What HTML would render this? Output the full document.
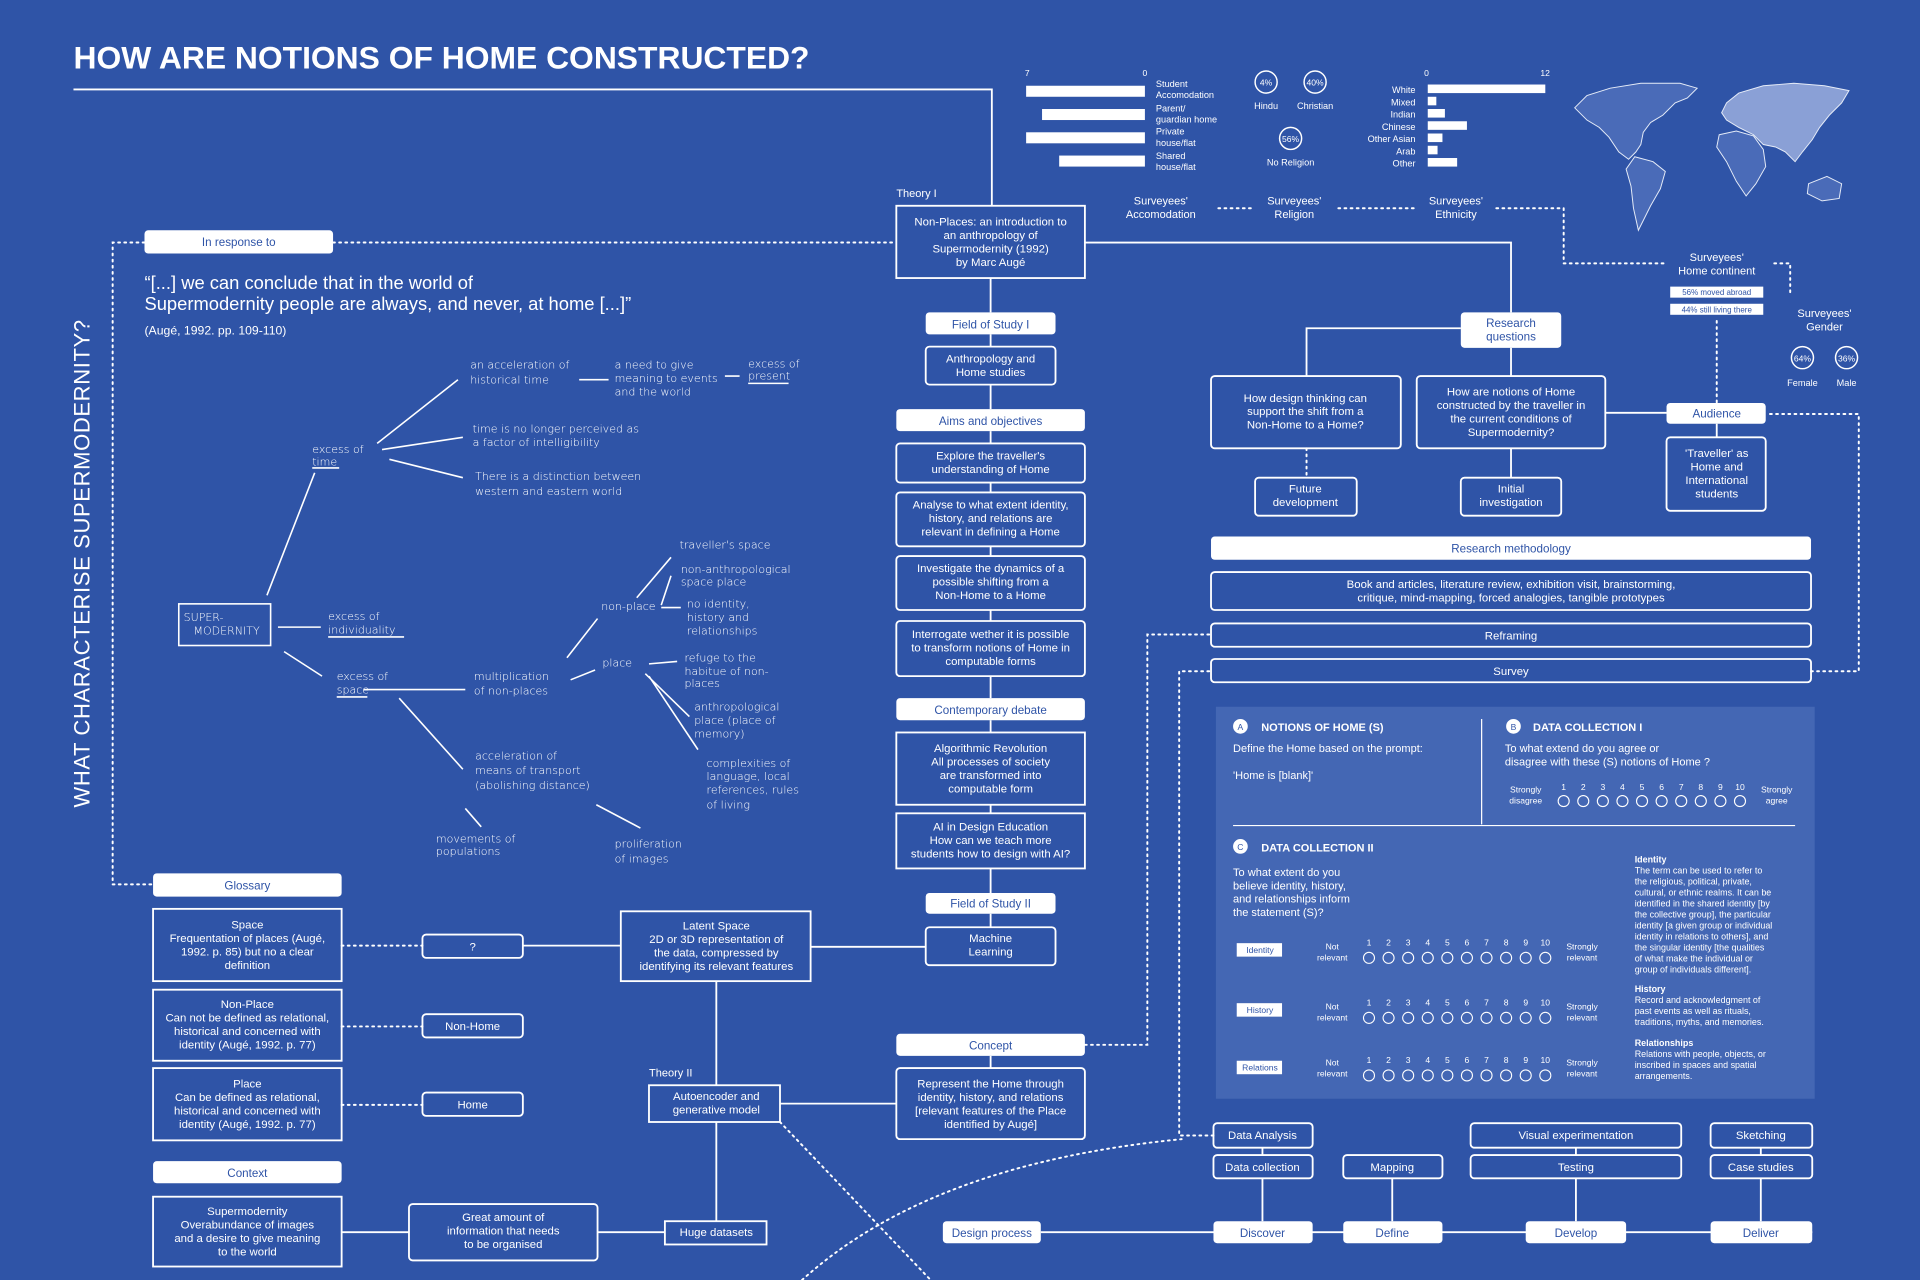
<!DOCTYPE html>
<html><head><meta charset="utf-8"><style>
html,body{margin:0;padding:0;background:#2f54a7;}
svg{display:block;}
text{font-family:"Liberation Sans",sans-serif;fill:#fff;}
.b{fill:#2f54a7;}
.m{text-anchor:middle;}
.hw{font-family:"DejaVu Sans",sans-serif;font-size:9px;font-weight:200;}
</style></head><body>
<svg width="1920" height="1280" viewBox="0 0 1568 1045" preserveAspectRatio="none" xmlns="http://www.w3.org/2000/svg">
<rect width="1568" height="1045" fill="#2f54a7"/>
<g stroke="#fff" fill="none" stroke-width="1.5">
<path d="M60 73H810V168"/>
<path d="M809 227V255M809 273V283M809 314V334M809 352V362M809 394V402M809 446V454M809 498V507M809 552V570M809 588V598M809 657V664M809 709V729M809 746V757"/>
<path d="M886 198H1234V255"/>
<path d="M756 773H662M585 801V886M585 916V997M637 901H732M543 1006H488M334 1006H279M427 772H507"/>
<path d="M809 862V872"/>
<path d="M1193 268H1067V307M1234 284V307M1311 337H1361M1402 346V357M1234 366V390"/>
<path d="M850 1006H1480M1031 962V997M1137 962V997M1287 962V997M1438 962V997M1031 937V943M1287 937V943M1438 937V943"/>
</g>
<g stroke="#fff" fill="none" stroke-width="1.6" stroke-dasharray="1.5 3.5" stroke-linecap="round">
<path d="M118 198H92V722H125"/>
<path d="M272 198H732"/>
<path d="M279 772H345M279 838H345M279 902H345"/>
<path d="M886 853H937V518H989"/>
<path d="M991 927H963V548H989"/>
<path d="M1479 548H1518V338H1443"/>
<path d="M995 170H1025M1093 170H1158M1222 170H1277V215H1360"/>
<path d="M1449 215H1462V240"/>
<path d="M1402 262V330"/>
<path d="M1067 366V390"/>
<path d="M637 916L760 1045"/>
<path d="M655 1045Q760 950 965 930"/>
</g>
<text x="60" y="56" font-size="26" font-weight="bold" style="font-size:26px">HOW ARE NOTIONS OF HOME CONSTRUCTED?</text>
<text transform="translate(73 460) rotate(-90)" class="m" font-size="18" letter-spacing="0.5">WHAT CHARACTERISE SUPERMODERNITY?</text>
<text x="837" y="62" font-size="7">7</text><text x="933" y="62" font-size="7">0</text>
<g fill="#fff"><rect x="838" y="70" width="97" height="9"/><rect x="851" y="89" width="84" height="9"/><rect x="838" y="108" width="97" height="9"/><rect x="865" y="127" width="70" height="9"/></g>
<g font-size="7.5"><text x="944" y="71">Student</text><text x="944" y="80">Accomodation</text><text x="944" y="91">Parent/</text><text x="944" y="100">guardian home</text><text x="944" y="110">Private</text><text x="944" y="119">house/flat</text><text x="944" y="130">Shared</text><text x="944" y="139">house/flat</text></g>
<g stroke="#fff" fill="none" stroke-width="1.2"><circle cx="1034" cy="67" r="9"/><circle cx="1074" cy="67" r="9"/><circle cx="1054" cy="113" r="9"/><circle cx="1472" cy="292" r="9"/><circle cx="1508" cy="292" r="9"/></g>
<g font-size="7" class="m"><text x="1034" y="70" class="m">4%</text><text x="1074" y="70" class="m">40%</text><text x="1054" y="116" class="m">56%</text><text x="1472" y="295" class="m">64%</text><text x="1508" y="295" class="m">36%</text>
<text x="1034" y="89" class="m" font-size="7.5">Hindu</text><text x="1074" y="89" class="m" font-size="7.5">Christian</text><text x="1054" y="135" class="m" font-size="7.5">No Religion</text><text x="1472" y="315" class="m" font-size="7.5">Female</text><text x="1508" y="315" class="m" font-size="7.5">Male</text></g>
<text x="1163" y="62" font-size="7">0</text><text x="1258" y="62" font-size="7">12</text>
<g font-size="7.5" text-anchor="end"><text x="1156" y="76" text-anchor="end">White</text><text x="1156" y="86" text-anchor="end">Mixed</text><text x="1156" y="96" text-anchor="end">Indian</text><text x="1156" y="106" text-anchor="end">Chinese</text><text x="1156" y="116" text-anchor="end">Other Asian</text><text x="1156" y="126" text-anchor="end">Arab</text><text x="1156" y="136" text-anchor="end">Other</text></g>
<g fill="#fff"><rect x="1166" y="69" width="96" height="7"/><rect x="1166" y="79" width="7" height="7"/><rect x="1166" y="89" width="14" height="7"/><rect x="1166" y="99" width="32" height="7"/><rect x="1166" y="109" width="12" height="7"/><rect x="1166" y="119" width="8" height="7"/><rect x="1166" y="129" width="24" height="7"/></g>
<g stroke="#e6ecf8" stroke-width="0.8" fill="#4a6bb8">
<path d="M1286 88L1296 78L1315 72L1340 68L1372 68L1386 72L1378 80L1368 84L1358 94L1348 100L1342 108L1340 118L1336 124L1330 130L1322 124L1314 112L1306 104L1296 98Z"/>
<path d="M1335 128L1350 132L1360 140L1356 154L1348 168L1342 180L1338 188L1334 170L1332 152L1328 138Z"/>
<path d="M1404 110L1418 107L1432 111L1440 122L1442 136L1434 150L1426 160L1418 148L1410 132L1402 120Z"/>
<path d="M1477 150L1492 144L1504 150L1502 162L1488 164L1476 158Z"/>
</g>
<g stroke="#e6ecf8" stroke-width="0.8" fill="#8aa0d6">
<path d="M1410 84L1420 76L1440 70L1465 68L1490 70L1510 74L1504 84L1494 94L1486 104L1480 114L1472 124L1466 132L1458 124L1450 120L1440 118L1432 110L1420 104L1410 98L1406 92Z"/>
</g>
<g font-size="9" class="m"><text x="948" y="167" class="m">Surveyees'</text><text x="948" y="178" class="m">Accomodation</text><text x="1057" y="167" class="m">Surveyees'</text><text x="1057" y="178" class="m">Religion</text><text x="1189" y="167" class="m">Surveyees'</text><text x="1189" y="178" class="m">Ethnicity</text><text x="1402" y="213" class="m">Surveyees'</text><text x="1402" y="224" class="m">Home continent</text><text x="1490" y="259" class="m">Surveyees'</text><text x="1490" y="270" class="m">Gender</text></g>
<rect x="1364" y="234" width="76" height="9" fill="#fff"/><rect x="1364" y="248" width="76" height="9" fill="#fff"/>
<text x="1402" y="241" class="m b" font-size="6.5">56% moved abroad</text><text x="1402" y="255" class="m b" font-size="6.5">44% still living there</text>
<g fill="#fff">
<rect x="118" y="188" width="154" height="19" rx="3"/>
<rect x="756" y="255" width="106" height="18" rx="3"/>
<rect x="732" y="334" width="154" height="18" rx="3"/>
<rect x="732" y="570" width="154" height="18" rx="3"/>
<rect x="756" y="729" width="106" height="17" rx="3"/>
<rect x="732" y="844" width="154" height="18" rx="3"/>
<rect x="1193" y="255" width="82" height="29" rx="3"/>
<rect x="1361" y="329" width="81" height="17" rx="3"/>
<rect x="989" y="438" width="490" height="19" rx="3"/>
<rect x="125" y="713" width="154" height="19" rx="3"/>
<rect x="125" y="948" width="154" height="18" rx="3"/>
<rect x="770" y="997" width="80" height="18" rx="3"/>
<rect x="991" y="997" width="81" height="18" rx="3"/>
<rect x="1097" y="997" width="81" height="18" rx="3"/>
<rect x="1246" y="997" width="82" height="18" rx="3"/>
<rect x="1397" y="997" width="83" height="18" rx="3"/>
</g>
<g font-size="9.5" class="b">
<text x="195" y="201" class="m b">In response to</text>
<text x="809" y="268" class="m b">Field of Study I</text>
<text x="809" y="347" class="m b">Aims and objectives</text>
<text x="809" y="583" class="m b">Contemporary debate</text>
<text x="809" y="741" class="m b">Field of Study II</text>
<text x="809" y="857" class="m b">Concept</text>
<text x="1234" y="267" class="m b">Research</text><text x="1234" y="278" class="m b">questions</text>
<text x="1402" y="341" class="m b">Audience</text>
<text x="1234" y="451" class="m b">Research methodology</text>
<text x="202" y="726" class="m b">Glossary</text>
<text x="202" y="961" class="m b">Context</text>
<text x="810" y="1010" class="m b">Design process</text>
<text x="1031" y="1010" class="m b">Discover</text>
<text x="1137" y="1010" class="m b">Define</text>
<text x="1287" y="1010" class="m b">Develop</text>
<text x="1438" y="1010" class="m b">Deliver</text>
</g>
<g stroke="#fff" fill="none" stroke-width="1.5">
<rect x="732" y="168" width="154" height="59"/>
<rect x="756" y="283" width="106" height="31" rx="3"/>
<rect x="732" y="362" width="154" height="32" rx="3"/>
<rect x="732" y="402" width="154" height="44" rx="3"/>
<rect x="732" y="454" width="154" height="44" rx="3"/>
<rect x="732" y="507" width="154" height="45" rx="3"/>
<rect x="732" y="598" width="154" height="59"/>
<rect x="732" y="664" width="154" height="45"/>
<rect x="756" y="757" width="106" height="31" rx="3"/>
<rect x="732" y="872" width="154" height="58" rx="3"/>
<rect x="507" y="744" width="155" height="57"/>
<rect x="530" y="886" width="107" height="30"/>
<rect x="543" y="997" width="83" height="19"/>
<rect x="334" y="983" width="154" height="46" rx="3"/>
<rect x="125" y="742" width="154" height="59"/>
<rect x="125" y="808" width="154" height="58"/>
<rect x="125" y="872" width="154" height="59"/>
<rect x="125" y="977" width="154" height="57"/>
<rect x="345" y="763" width="82" height="19" rx="3"/>
<rect x="345" y="828" width="82" height="19" rx="3"/>
<rect x="345" y="892" width="82" height="19" rx="3"/>
<rect x="989" y="307" width="155" height="59" rx="3"/>
<rect x="1157" y="307" width="154" height="59" rx="3"/>
<rect x="1361" y="357" width="81" height="60" rx="3"/>
<rect x="1025" y="390" width="83" height="31" rx="3"/>
<rect x="1193" y="390" width="82" height="31" rx="3"/>
<rect x="989" y="467" width="490" height="31" rx="3"/>
<rect x="989" y="509" width="490" height="19" rx="3"/>
<rect x="989" y="538" width="490" height="19" rx="3"/>
<rect x="991" y="917" width="81" height="20" rx="3"/>
<rect x="991" y="943" width="81" height="19" rx="3"/>
<rect x="1097" y="943" width="81" height="19" rx="3"/>
<rect x="1201" y="917" width="172" height="20" rx="3"/>
<rect x="1201" y="943" width="172" height="19" rx="3"/>
<rect x="1397" y="917" width="83" height="20" rx="3"/>
<rect x="1397" y="943" width="83" height="19" rx="3"/>
</g>
<g font-size="9.3">
<text x="732" y="161" font-size="9">Theory I</text>
<text x="809" y="184" class="m">Non-Places: an introduction to</text><text x="809" y="195" class="m">an anthropology of</text><text x="809" y="206" class="m">Supermodernity (1992)</text><text x="809" y="217" class="m">by Marc Augé</text>
<text x="809" y="296" class="m">Anthropology and</text><text x="809" y="307" class="m">Home studies</text>
<text x="809" y="375" class="m">Explore the traveller's</text><text x="809" y="386" class="m">understanding of Home</text>
<text x="809" y="415" class="m">Analyse to what extent identity,</text><text x="809" y="426" class="m">history, and relations are</text><text x="809" y="437" class="m">relevant in defining a Home</text>
<text x="809" y="467" class="m">Investigate the dynamics of a</text><text x="809" y="478" class="m">possible shifting from a</text><text x="809" y="489" class="m">Non-Home to a Home</text>
<text x="809" y="521" class="m">Interrogate wether it is possible</text><text x="809" y="532" class="m">to transform notions of Home in</text><text x="809" y="543" class="m">computable forms</text>
<text x="809" y="614" class="m">Algorithmic Revolution</text><text x="809" y="625" class="m">All processes of society</text><text x="809" y="636" class="m">are transformed into</text><text x="809" y="647" class="m">computable form</text>
<text x="809" y="678" class="m">AI in Design Education</text><text x="809" y="689" class="m">How can we teach more</text><text x="809" y="700" class="m">students how to design with AI?</text>
<text x="809" y="769" class="m">Machine</text><text x="809" y="780" class="m">Learning</text>
<text x="809" y="888" class="m">Represent the Home through</text><text x="809" y="899" class="m">identity, history, and relations</text><text x="809" y="910" class="m">[relevant features of the Place</text><text x="809" y="921" class="m">identified by Augé]</text>
<text x="585" y="759" class="m">Latent Space</text><text x="585" y="770" class="m">2D or 3D representation of</text><text x="585" y="781" class="m">the data, compressed by</text><text x="585" y="792" class="m">identifying its relevant features</text>
<text x="530" y="879" font-size="9">Theory II</text>
<text x="585" y="898" class="m">Autoencoder and</text><text x="585" y="909" class="m">generative model</text>
<text x="585" y="1009" class="m">Huge datasets</text>
<text x="411" y="997" class="m">Great amount of</text><text x="411" y="1008" class="m">information that needs</text><text x="411" y="1019" class="m">to be organised</text>
<text x="202" y="758" class="m">Space</text><text x="202" y="769" class="m">Frequentation of places (Augé,</text><text x="202" y="780" class="m">1992. p. 85) but no a clear</text><text x="202" y="791" class="m">definition</text>
<text x="202" y="823" class="m">Non-Place</text><text x="202" y="834" class="m">Can not be defined as relational,</text><text x="202" y="845" class="m">historical and concerned with</text><text x="202" y="856" class="m">identity (Augé, 1992. p. 77)</text>
<text x="202" y="888" class="m">Place</text><text x="202" y="899" class="m">Can be defined as relational,</text><text x="202" y="910" class="m">historical and concerned with</text><text x="202" y="921" class="m">identity (Augé, 1992. p. 77)</text>
<text x="202" y="992" class="m">Supermodernity</text><text x="202" y="1003" class="m">Overabundance of images</text><text x="202" y="1014" class="m">and a desire to give meaning</text><text x="202" y="1025" class="m">to the world</text>
<text x="386" y="776" class="m">?</text><text x="386" y="841" class="m">Non-Home</text><text x="386" y="905" class="m">Home</text>
<text x="1066" y="328" class="m">How design thinking can</text><text x="1066" y="339" class="m">support the shift from a</text><text x="1066" y="350" class="m">Non-Home to a Home?</text>
<text x="1234" y="323" class="m">How are notions of Home</text><text x="1234" y="334" class="m">constructed by the traveller in</text><text x="1234" y="345" class="m">the current conditions of</text><text x="1234" y="356" class="m">Supermodernity?</text>
<text x="1402" y="373" class="m">'Traveller' as</text><text x="1402" y="384" class="m">Home and</text><text x="1402" y="395" class="m">International</text><text x="1402" y="406" class="m">students</text>
<text x="1066" y="402" class="m">Future</text><text x="1066" y="413" class="m">development</text>
<text x="1234" y="402" class="m">Initial</text><text x="1234" y="413" class="m">investigation</text>
<text x="1234" y="480" class="m">Book and articles, literature review, exhibition visit, brainstorming,</text><text x="1234" y="491" class="m">critique, mind-mapping, forced analogies, tangible prototypes</text>
<text x="1234" y="522" class="m">Reframing</text><text x="1234" y="551" class="m">Survey</text>
<text x="1031" y="930" class="m">Data Analysis</text><text x="1031" y="956" class="m">Data collection</text><text x="1137" y="956" class="m">Mapping</text>
<text x="1287" y="930" class="m">Visual experimentation</text><text x="1287" y="956" class="m">Testing</text>
<text x="1438" y="930" class="m">Sketching</text><text x="1438" y="956" class="m">Case studies</text>
</g>
<text x="118" y="236" font-size="15">“[...] we can conclude that in the world of</text>
<text x="118" y="253" font-size="15">Supermodernity people are always, and never, at home [...]”</text>
<text x="118" y="273" font-size="10">(Augé, 1992. pp. 109-110)</text>
<g stroke="#fff" fill="none" stroke-width="1.3">
<rect x="146" y="493" width="75" height="34"/>
<path d="M473 310H497M592 307H604M308 362L374 310M312 367L378 357M318 375L378 390M218 486L257 386M227 512H262M232 532L263 552M297 563H380M466 555L486 547M463 537L488 505M520 488L548 455M540 494L548 470M540 496H556M530 542L553 540M527 550L563 585M530 552L570 612M326 570L378 628M487 657L523 676M380 660L393 675"/>
<path d="M255 382H277M268 520H330M275 569H300M611 313H644"/>
</g>
<g class="hw">
<text x="150" y="507" class="hw">SUPER-</text><text x="158" y="518" class="hw">MODERNITY</text>
<text x="384" y="301" class="hw">an acceleration of</text><text x="384" y="313" class="hw">historical time</text>
<text x="502" y="301" class="hw">a need to give</text><text x="502" y="312" class="hw">meaning to events</text><text x="502" y="323" class="hw">and the world</text>
<text x="611" y="300" class="hw">excess of</text><text x="611" y="310" class="hw">present</text>
<text x="386" y="353" class="hw">time is no longer perceived as</text><text x="386" y="364" class="hw">a factor of intelligibility</text>
<text x="388" y="392" class="hw">There is a distinction between</text><text x="388" y="404" class="hw">western and eastern world</text>
<text x="255" y="370" class="hw">excess of</text><text x="255" y="380" class="hw">time</text>
<text x="268" y="506" class="hw">excess of</text><text x="268" y="517" class="hw">individuality</text>
<text x="275" y="555" class="hw">excess of</text><text x="275" y="566" class="hw">space</text>
<text x="387" y="555" class="hw">multiplication</text><text x="387" y="567" class="hw">of non-places</text>
<text x="492" y="544" class="hw">place</text><text x="491" y="498" class="hw">non-place</text>
<text x="555" y="448" class="hw">traveller's space</text>
<text x="556" y="468" class="hw">non-anthropological</text><text x="556" y="478" class="hw">space place</text>
<text x="561" y="496" class="hw">no identity,</text><text x="561" y="507" class="hw">history and</text><text x="561" y="518" class="hw">relationships</text>
<text x="559" y="540" class="hw">refuge to the</text><text x="559" y="551" class="hw">habitue of non-</text><text x="559" y="561" class="hw">places</text>
<text x="567" y="580" class="hw">anthropological</text><text x="567" y="591" class="hw">place (place of</text><text x="567" y="602" class="hw">memory)</text>
<text x="577" y="626" class="hw">complexities of</text><text x="577" y="637" class="hw">language, local</text><text x="577" y="648" class="hw">references, rules</text><text x="577" y="660" class="hw">of living</text>
<text x="388" y="620" class="hw">acceleration of</text><text x="388" y="632" class="hw">means of transport</text><text x="388" y="644" class="hw">(abolishing distance)</text>
<text x="356" y="688" class="hw">movements of</text><text x="356" y="698" class="hw">populations</text>
<text x="502" y="692" class="hw">proliferation</text><text x="502" y="704" class="hw">of images</text>
</g>
<rect x="993" y="577" width="489" height="320" fill="#4467b4"/>
<g stroke="#fff" stroke-width="1" fill="none"><path d="M1210 587V673M1007 674H1466"/></g>
<g fill="#fff"><circle cx="1013" cy="593" r="6"/><circle cx="1236" cy="593" r="6"/><circle cx="1013" cy="691" r="6"/></g>
<text x="1013" y="596" class="m b" font-size="7">A</text><text x="1236" y="596" class="m b" font-size="7">B</text><text x="1013" y="694" class="m b" font-size="7">C</text>
<g font-size="9"><text x="1030" y="597" font-weight="bold">NOTIONS OF HOME (S)</text><text x="1252" y="597" font-weight="bold">DATA COLLECTION I</text><text x="1030" y="695" font-weight="bold">DATA COLLECTION II</text>
<text x="1007" y="614">Define the Home based on the prompt:</text><text x="1007" y="636">'Home is [blank]'</text>
<text x="1229" y="614">To what extend do you agree or</text><text x="1229" y="625">disagree with these (S) notions of Home ?</text>
<text x="1007" y="715">To what extent do you</text><text x="1007" y="726">believe identity, history,</text><text x="1007" y="737">and relationships inform</text><text x="1007" y="748">the statement (S)?</text></g>
<g font-size="7"><text x="1246" y="647" class="m">Strongly</text><text x="1246" y="656" class="m">disagree</text><text x="1451" y="647" class="m">Strongly</text><text x="1451" y="656" class="m">agree</text>
<text x="1277" y="645" class="m">1</text><text x="1293" y="645" class="m">2</text><text x="1309" y="645" class="m">3</text><text x="1325" y="645" class="m">4</text><text x="1341" y="645" class="m">5</text><text x="1357" y="645" class="m">6</text><text x="1373" y="645" class="m">7</text><text x="1389" y="645" class="m">8</text><text x="1405" y="645" class="m">9</text><text x="1421" y="645" class="m">10</text></g>
<g stroke="#fff" fill="none" stroke-width="0.9">
<circle cx="1277" cy="654" r="4.5"/><circle cx="1293" cy="654" r="4.5"/><circle cx="1309" cy="654" r="4.5"/><circle cx="1325" cy="654" r="4.5"/><circle cx="1341" cy="654" r="4.5"/><circle cx="1357" cy="654" r="4.5"/><circle cx="1373" cy="654" r="4.5"/><circle cx="1389" cy="654" r="4.5"/><circle cx="1405" cy="654" r="4.5"/><circle cx="1421" cy="654" r="4.5"/>
</g>
<defs>
<g id="row"><g stroke="#fff" fill="none" stroke-width="0.9">
<circle cx="1118" cy="10" r="4.5"/><circle cx="1134" cy="10" r="4.5"/><circle cx="1150" cy="10" r="4.5"/><circle cx="1166" cy="10" r="4.5"/><circle cx="1182" cy="10" r="4.5"/><circle cx="1198" cy="10" r="4.5"/><circle cx="1214" cy="10" r="4.5"/><circle cx="1230" cy="10" r="4.5"/><circle cx="1246" cy="10" r="4.5"/><circle cx="1262" cy="10" r="4.5"/></g>
<rect x="1010" y="-2" width="37" height="11" fill="#fff"/>
</g></defs>
<use href="#row" y="772"/><use href="#row" y="821"/><use href="#row" y="868"/>
<g font-size="7">
<text x="1029" y="778" class="m b">Identity</text><text x="1029" y="827" class="m b">History</text><text x="1029" y="874" class="m b">Relations</text>
<text x="1088" y="775" class="m">Not</text><text x="1088" y="784" class="m">relevant</text><text x="1088" y="824" class="m">Not</text><text x="1088" y="833" class="m">relevant</text><text x="1088" y="870" class="m">Not</text><text x="1088" y="879" class="m">relevant</text>
<text x="1292" y="775" class="m">Strongly</text><text x="1292" y="784" class="m">relevant</text><text x="1292" y="824" class="m">Strongly</text><text x="1292" y="833" class="m">relevant</text><text x="1292" y="870" class="m">Strongly</text><text x="1292" y="879" class="m">relevant</text>
<text x="1118" y="772" class="m">1</text><text x="1134" y="772" class="m">2</text><text x="1150" y="772" class="m">3</text><text x="1166" y="772" class="m">4</text><text x="1182" y="772" class="m">5</text><text x="1198" y="772" class="m">6</text><text x="1214" y="772" class="m">7</text><text x="1230" y="772" class="m">8</text><text x="1246" y="772" class="m">9</text><text x="1262" y="772" class="m">10</text>
<text x="1118" y="821" class="m">1</text><text x="1134" y="821" class="m">2</text><text x="1150" y="821" class="m">3</text><text x="1166" y="821" class="m">4</text><text x="1182" y="821" class="m">5</text><text x="1198" y="821" class="m">6</text><text x="1214" y="821" class="m">7</text><text x="1230" y="821" class="m">8</text><text x="1246" y="821" class="m">9</text><text x="1262" y="821" class="m">10</text>
<text x="1118" y="868" class="m">1</text><text x="1134" y="868" class="m">2</text><text x="1150" y="868" class="m">3</text><text x="1166" y="868" class="m">4</text><text x="1182" y="868" class="m">5</text><text x="1198" y="868" class="m">6</text><text x="1214" y="868" class="m">7</text><text x="1230" y="868" class="m">8</text><text x="1246" y="868" class="m">9</text><text x="1262" y="868" class="m">10</text>
</g>
<g font-size="7.3">
<text x="1335" y="704" font-weight="bold">Identity</text>
<text x="1335" y="713">The term can be used to refer to</text><text x="1335" y="722">the religious, political, private,</text><text x="1335" y="731">cultural, or ethnic realms. It can be</text><text x="1335" y="740">identified in the shared identity [by</text><text x="1335" y="749">the collective group], the particular</text><text x="1335" y="758">identity [a given group or individual</text><text x="1335" y="767">identity in relations to others], and</text><text x="1335" y="776">the singular identity [the qualities</text><text x="1335" y="785">of what make the individual or</text><text x="1335" y="794">group of individuals different].</text>
<text x="1335" y="810" font-weight="bold">History</text>
<text x="1335" y="819">Record and acknowledgment of</text><text x="1335" y="828">past events as well as rituals,</text><text x="1335" y="837">traditions, myths, and memories.</text>
<text x="1335" y="854" font-weight="bold">Relationships</text>
<text x="1335" y="863">Relations with people, objects, or</text><text x="1335" y="872">inscribed in spaces and spatial</text><text x="1335" y="881">arrangements.</text>
</g>
</svg>
</body></html>
